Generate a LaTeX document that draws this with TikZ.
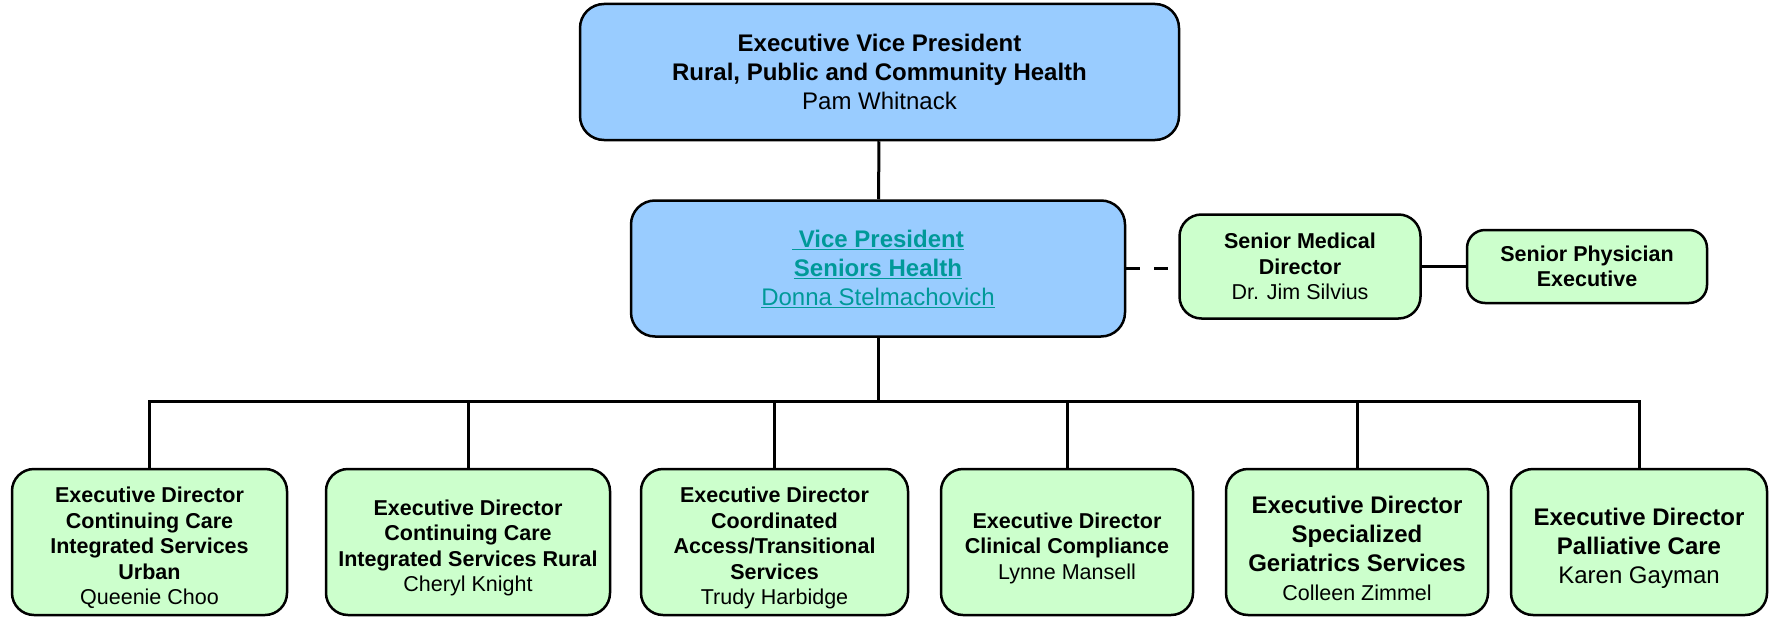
\documentclass[tikz,border=0pt]{standalone}
\usepackage{fontspec}
\setmainfont{Liberation Sans}
\usepackage{tikz}
\usepackage{xcolor}
\usetikzlibrary{positioning}
\definecolor{vpblue}{RGB}{153,204,255}
\definecolor{edgreen}{RGB}{204,255,204}
\definecolor{linkteal}{RGB}{0,153,153}
\newcommand{\edstrut}{\rule{0pt}{27.5pt}}
\newcommand{\bigedstrut}{\rule{0pt}{29.5pt}}
\tikzstyle{vpbox}  = [rectangle, rounded corners=24pt, draw=black, line width=2.5pt,
                      fill=vpblue, align=center, inner sep=4pt, font=\fontsize{24}{29}\selectfont]
\tikzstyle{edbox}  = [rectangle, rounded corners=22pt, draw=black, line width=2.5pt,
                      fill=edgreen, align=center, inner sep=4pt, font=\fontsize{21.5}{25.5}\selectfont]
\tikzstyle{edrow}  = [edbox, minimum height=146pt]
\tikzstyle{bigrow} = [edrow, font=\fontsize{24}{29}\selectfont]
\tikzstyle{link}   = [line width=3pt]

\begin{document}
\begin{tikzpicture}[x=1pt, y=-1pt]
    \useasboundingbox (0,0) rectangle (1771,618);

    % Executive level
    \node (evp) [vpbox, minimum width=599pt, minimum height=136pt] at (879.5,72)
        {\textbf{Executive Vice President}\\ \textbf{Rural, Public and Community Health}\\ Pam Whitnack};
    \node (vp) [vpbox, below=58pt of evp, xshift=-1.5pt, minimum width=494pt, minimum height=136pt]
        {\color{linkteal}\textbf{\underline{\ Vice President}}\\
         \color{linkteal}\textbf{\underline{Seniors Health}}\\
         \color{linkteal}\underline{Donna Stelmachovich}};

    % Medical side
    \node (smd) [edbox, right=52pt of vp, yshift=2pt, minimum width=241pt, minimum height=104pt]
        {\textbf{Senior Medical}\\ \textbf{Director}\\ Dr. Jim Silvius};
    \node (spe) [edbox, right=44pt of smd, minimum width=240pt, minimum height=73pt, rounded corners=18pt]
        {\textbf{Senior Physician}\\ \textbf{Executive}};

    % Executive directors (bottom row)
    \node (b1) [edrow, minimum width=275pt] at (149.5,542)
        {\edstrut\textbf{Executive Director}\\ \textbf{Continuing Care}\\ \textbf{Integrated Services}\\ \textbf{Urban}\\ Queenie Choo};
    \node (b2) [edrow, minimum width=284pt] at (468,542)
        {\edstrut\textbf{Executive Director}\\ \textbf{Continuing Care}\\ \textbf{Integrated Services Rural}\\ Cheryl Knight};
    \node (b3) [edrow, minimum width=267pt] at (774.5,542)
        {\edstrut\textbf{Executive Director}\\ \textbf{Coordinated}\\ \textbf{Access/Transitional}\\ \textbf{Services}\\ Trudy Harbidge};
    \node (b4) [edrow, minimum width=252pt] at (1067,542)
        {\edstrut\textbf{Executive Director}\\ \textbf{Clinical Compliance}\\ Lynne Mansell};
    \node (b5) [bigrow, minimum width=262pt] at (1357,542)
        {\bigedstrut\textbf{Executive Director}\\ \textbf{Specialized}\\ \textbf{Geriatrics Services}\\ {\fontsize{21.5}{27}\selectfont Colleen Zimmel}};
    \node (b6) [bigrow, minimum width=256pt] at (1639,542)
        {\bigedstrut\textbf{Executive Director}\\ \textbf{Palliative Care}\\ Karen Gayman};

    \coordinate (bus) at (878,401);

    % Reporting lines
    \draw[link] (evp) -- (vp);
    \draw[link, dash pattern=on 14pt off 14pt] (vp.east) -- (vp.east -| smd.west);
    \draw[link] (smd) -- (spe);
    \draw[link] (vp.south) -- (bus);
    \draw[link] (b1.north) |- (bus) -| (b6.north);
    \foreach \n in {b2,b3,b4,b5}
        \draw[link] (\n.north |- bus) -- (\n.north);
\end{tikzpicture}
\end{document}
